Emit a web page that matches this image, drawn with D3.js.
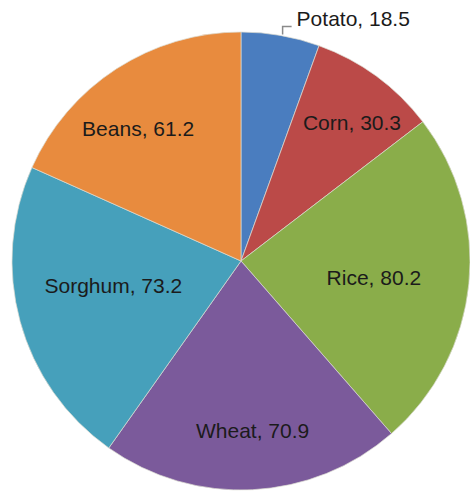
<!DOCTYPE html>
<html>
<head>
<meta charset="utf-8">
<script src="https://cdn.jsdelivr.net/npm/d3@7"></script>
<style>
  html, body { margin: 0; padding: 0; background: #fff; }
  svg { display: block; }
  .slice-label { font-family: "Liberation Sans", Arial, sans-serif; font-size: 21px; fill: #1b1b1b; }
</style>
</head>
<body>
<div id="chart"></div>
<script>
// data
var crops = ["Potato", "Corn", "Rice", "Wheat", "Sorghum", "Beans"];
var amounts = [18.5, 30.3, 80.2, 70.9, 73.2, 61.2];

// slice colours
var sliceColors = ["#4a7dbf", "#bb4a48", "#8aad4a", "#7b5a9b", "#46a0bb", "#e88b3e"];

// label placement: [radius, angle shift in degrees] from each slice's mid angle
var labelPlacement = {
	Corn: [177, 2.6],
	Rice: [134, 1.6],
	Wheat: [170, -1],
	Sorghum: [130, 4.4],
	Beans: [168, -4.8]
};

var width = 470, height = 491;
var cx = 241, cy = 261, radius = 229;

var svg = d3.select("#chart").append("svg")
	.attr("width", width)
	.attr("height", height);

var g = svg.append("g")
	.attr("transform", "translate(" + cx + "," + cy + ")");

var data = crops.map(function(c, i){ return { name: c, value: amounts[i] }; });

var pie = d3.pie()
	.value(function(d){ return d.value; })
	.sort(null);

var arc = d3.arc().innerRadius(0).outerRadius(radius);

var color = d3.scaleOrdinal().domain(crops).range(sliceColors);

var arcs = pie(data);

// slices
g.selectAll("path.slice")
	.data(arcs)
	.enter().append("path")
	.attr("class", "slice")
	.attr("d", arc)
	.attr("fill", function(d){ return color(d.data.name); })
	.attr("stroke", "rgba(220,220,210,0.7)")
	.attr("stroke-width", 1);

// inside labels
arcs.forEach(function(d){
	var p = labelPlacement[d.data.name];
	if (!p) return;
	var a = (d.startAngle + d.endAngle) / 2 + p[1] * Math.PI / 180;
	var x = p[0] * Math.sin(a), y = -p[0] * Math.cos(a);
	g.append("text")
		.attr("class", "slice-label")
		.attr("x", x)
		.attr("y", y)
		.attr("dy", "0.35em")
		.attr("text-anchor", "middle")
		.text(d.data.name + ", " + d.data.value);
});

// outside label for the small slice, with elbow leader
var potato = arcs[0];
var edgeArc = d3.arc().innerRadius(radius).outerRadius(radius);
var edge = edgeArc.centroid(potato);
var ex = edge[0] + 2, ey = edge[1] - 1;
var elbowY = ey - 8;

g.append("path")
	.attr("d", "M" + ex + "," + ey + "V" + elbowY + "H" + (ex + 9))
	.attr("fill", "none")
	.attr("stroke", "#8a8a8a")
	.attr("stroke-width", 1.5);

g.append("text")
	.attr("class", "slice-label")
	.attr("x", ex + 14)
	.attr("y", elbowY)
	.attr("text-anchor", "start")
	.text(potato.data.name + ", " + potato.data.value);
</script>
</body>
</html>
